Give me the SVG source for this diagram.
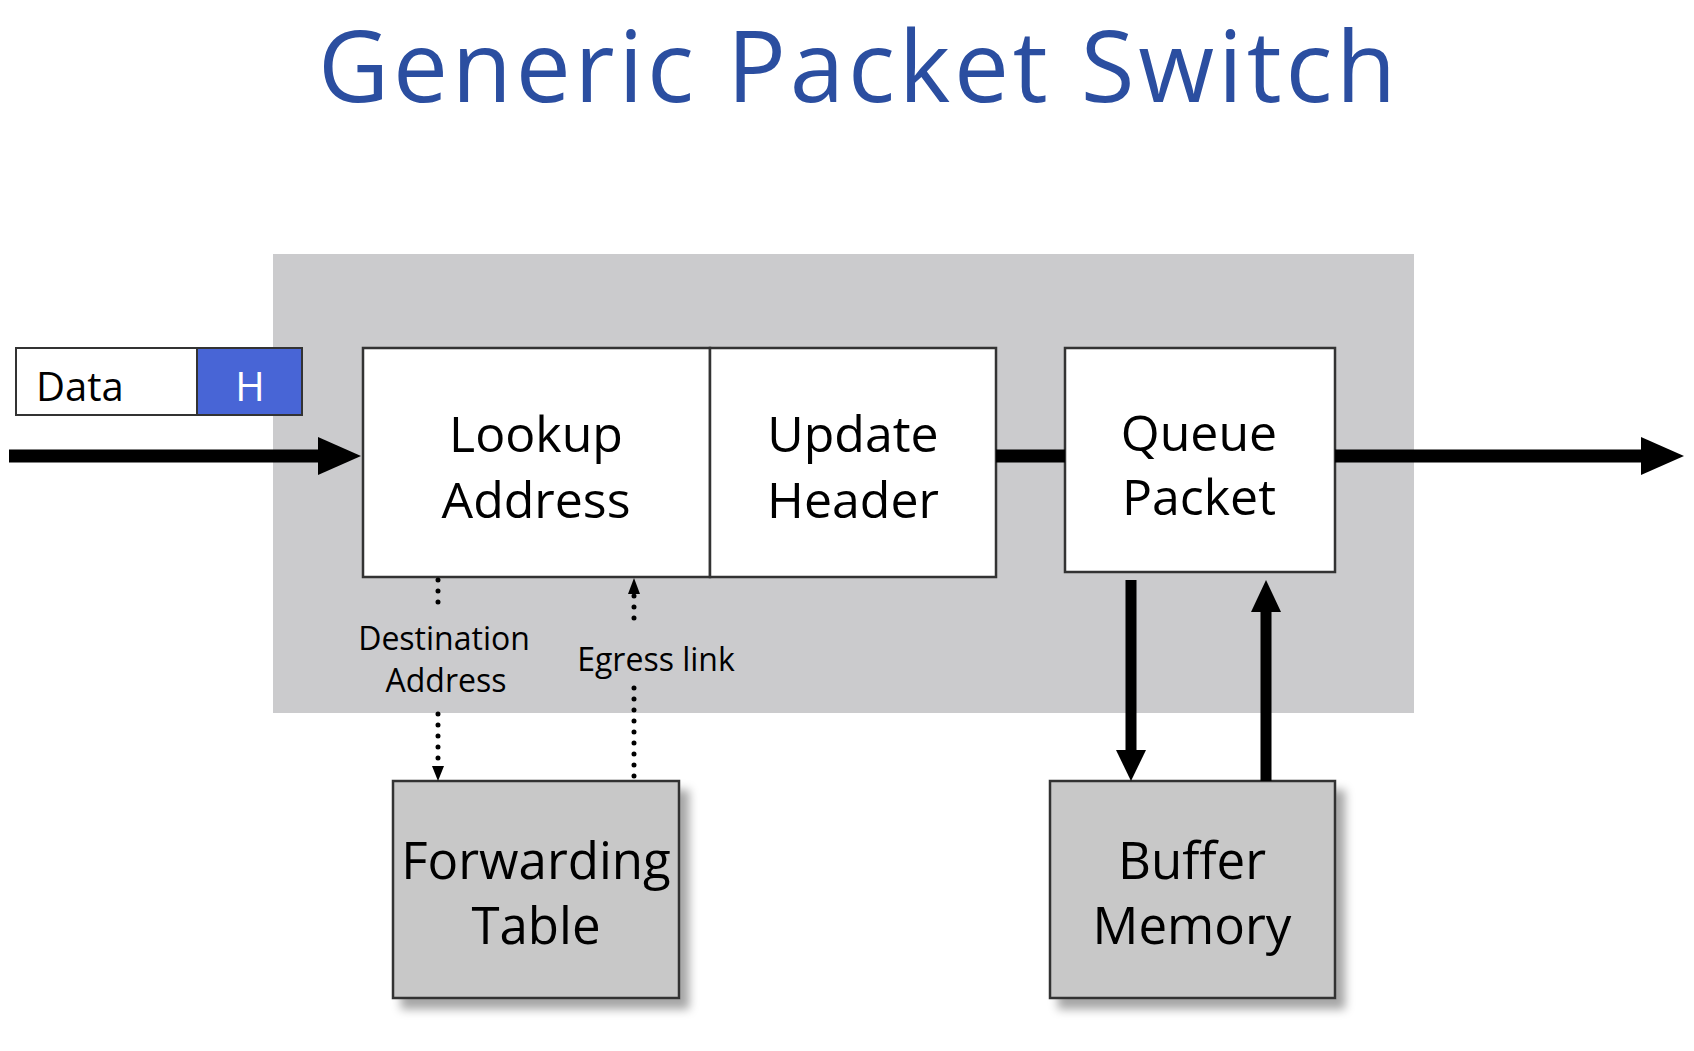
<svg xmlns="http://www.w3.org/2000/svg" width="1694" height="1051" viewBox="0 0 1694 1051">
<style>
text{font-family:"Open Sans","Liberation Sans",sans-serif;fill:#000}
.box{fill:#fff;stroke:#333;stroke-width:2.5}
.mem{fill:#c8c8c8;stroke:#333;stroke-width:2.5}
.lbl{font-size:50px;text-anchor:middle}
.small{font-size:32px;text-anchor:middle}
.thick{stroke:#000;stroke-width:13;fill:none}
.med{stroke:#000;stroke-width:11;fill:none}
.dot{stroke:#000;stroke-width:5;stroke-linecap:round;stroke-dasharray:0 11;fill:none}
</style>
<defs>
<filter id="sh" x="-10%" y="-10%" width="130%" height="130%">
<feDropShadow dx="9" dy="10" stdDeviation="5" flood-color="#000" flood-opacity="0.35"/>
</filter>
</defs>
<rect width="1694" height="1051" fill="#fff"/>
<text x="859" y="102" style="font-size:98px;letter-spacing:3.8px;fill:#2b4ea0;text-anchor:middle">Generic Packet Switch</text>
<rect id="switch" x="273" y="254" width="1141" height="459" fill="#cbcbcd"/>
<g id="packet">
<rect x="16" y="348" width="181" height="67" fill="#fff" stroke="#333" stroke-width="2"/>
<rect x="197" y="348" width="105" height="67" fill="#4865d6" stroke="#333" stroke-width="2"/>
<text x="36" y="401" style="font-size:40px">Data</text>
<text x="250" y="401" style="font-size:40px;fill:#fff;text-anchor:middle">H</text>
</g>
<g id="lookup">
<rect class="box" x="363" y="348" width="347" height="229"/>
<text class="lbl" x="536" y="452">Lookup</text>
<text class="lbl" x="536" y="518">Address</text>
</g>
<g id="update">
<rect class="box" x="710" y="348" width="286" height="229"/>
<text class="lbl" x="853" y="452">Update</text>
<text class="lbl" x="853" y="518">Header</text>
</g>
<g id="queue">
<rect class="box" x="1065" y="348" width="270" height="224"/>
<text class="lbl" x="1199" y="451">Queue</text>
<text class="lbl" x="1199" y="515">Packet</text>
</g>
<g id="fwd">
<rect class="mem" x="393" y="781" width="286" height="217" filter="url(#sh)"/>
<text class="lbl" x="536" y="879" style="font-size:51px">Forwarding</text>
<text class="lbl" x="536" y="944" style="font-size:51px">Table</text>
</g>
<g id="buffer">
<rect class="mem" x="1050" y="781" width="285" height="217" filter="url(#sh)"/>
<text class="lbl" x="1192" y="879" style="font-size:51px">Buffer</text>
<text class="lbl" x="1192" y="944" style="font-size:51px">Memory</text>
</g>
<g id="connectors">
<line class="thick" x1="9" y1="456" x2="320" y2="456"/>
<polygon points="318,437 361,456 318,475"/>
<line class="thick" x1="996" y1="456" x2="1065" y2="456"/>
<line class="thick" x1="1335" y1="456" x2="1643" y2="456"/>
<polygon points="1641,437 1684,456 1641,475"/>
<line class="med" x1="1131" y1="580" x2="1131" y2="752"/>
<polygon points="1116,750 1146,750 1131,781"/>
<line class="med" x1="1266" y1="610" x2="1266" y2="781"/>
<polygon points="1251,612 1281,612 1266,580"/>
<line class="dot" x1="438" y1="580" x2="438" y2="605"/>
<line class="dot" x1="438" y1="714" x2="438" y2="766"/>
<polygon points="432,766 444,766 438,781"/>
<polygon points="628,594 640,594 634,578"/>
<line class="dot" x1="634" y1="596" x2="634" y2="622"/>
<line class="dot" x1="634" y1="688" x2="634" y2="780"/>
<text class="small" x="444" y="650">Destination</text>
<text class="small" x="446" y="692">Address</text>
<text class="small" x="656" y="671">Egress link</text>
</g>
</svg>
